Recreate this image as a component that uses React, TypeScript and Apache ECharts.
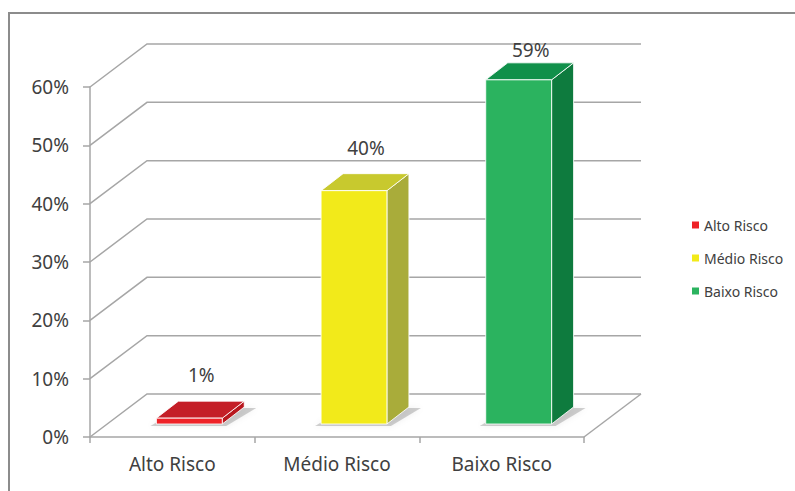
import React, { useEffect, useRef } from "react";
import * as echarts from "echarts";

const categories = ["Alto Risco", "Médio Risco", "Baixo Risco"];
const values = [1, 40, 59];
const yTicks = [0, 10, 20, 30, 40, 50, 60];
const frontColors = ["#EE2227", "#F2EA1A", "#2BB35F"];
const topColors = ["#C41E27", "#C8C92E", "#10904A"];
const sideColors = ["#B8171E", "#A9AC3A", "#0E7B3E"];

const FONT = "Noto Sans";
const TEXT = "#404040";
const GRIDC = "#A6A6A6";
// depth geometry (px)
const WALL_DX = 57;
const WALL_DY = 43;
const BAR_DX = 17;
const BAR_DY = 13;
const SIDE_DX = 22;
const SIDE_DY = 17;

export default function App() {
  const ref = useRef<HTMLDivElement>(null);
  useEffect(() => {
    if (!ref.current) return;
    const chart = echarts.init(ref.current, undefined, { renderer: "svg" });

    const wallSeries: any = {
      type: "custom",
      name: "walls",
      z: 1,
      silent: true,
      data: yTicks.map((v) => [0, v]),
      encode: { x: 0, y: 1 },
      renderItem: (params: any, api: any) => {
        const cs = params.coordSys;
        const v = api.value(1);
        const y = api.coord([0, v])[1];
        const x0 = cs.x;
        const x1 = cs.x + cs.width;
        const children: any[] = [
          {
            type: "polyline",
            shape: {
              points: [
                [x0, y],
                [x0 + WALL_DX, y - WALL_DY],
                [x1 + WALL_DX, y - WALL_DY],
              ],
            },
            style: { stroke: GRIDC, lineWidth: 1.5, fill: null },
          },
        ];
        if (v === 0) {
          children.push({
            type: "line",
            shape: { x1: x1, y1: y, x2: x1 + WALL_DX, y2: y - WALL_DY },
            style: { stroke: GRIDC, lineWidth: 1.5 },
          });
        }
        return { type: "group", children };
      },
    };

    const barSeries = categories.map((name, i) => ({
      type: "custom",
      name,
      z: 3,
      itemStyle: { color: frontColors[i] },
      data: [[i, values[i]]],
      encode: { x: 0, y: 1 },
      renderItem: (params: any, api: any) => {
        const cat = api.value(0);
        const v = api.value(1);
        const base = api.coord([cat, 0]);
        const top = api.coord([cat, v]);
        const band = api.size([1, 0])[0];
        const w = band * 0.4;
        const fx = base[0] + BAR_DX - w / 2;
        const fy0 = base[1] - BAR_DY;
        const fy1 = top[1] - BAR_DY;
        const stroke = "rgba(255,255,255,0.85)";
        const labelY = Math.max(fy1 - SIDE_DY - 26, params.coordSys.y - 37);
        return {
          type: "group",
          children: [
            {
              type: "polygon",
              shape: {
                points: [
                  [fx - 6, fy0 + 2],
                  [fx + w + 4, fy0 + 2],
                  [fx + w + SIDE_DX + 12, fy0 - SIDE_DY + 1],
                  [fx + SIDE_DX + 2, fy0 - SIDE_DY + 1],
                ],
              },
              style: {
                fill: "rgba(0,0,0,0.18)",
                shadowBlur: 6,
                shadowColor: "rgba(0,0,0,0.35)",
              },
            },
            {
              type: "polygon",
              shape: {
                points: [
                  [fx + w, fy1],
                  [fx + w + SIDE_DX, fy1 - SIDE_DY],
                  [fx + w + SIDE_DX, fy0 - SIDE_DY],
                  [fx + w, fy0],
                ],
              },
              style: { fill: sideColors[i], stroke, lineWidth: 1 },
            },
            {
              type: "polygon",
              shape: {
                points: [
                  [fx, fy1],
                  [fx + SIDE_DX, fy1 - SIDE_DY],
                  [fx + w + SIDE_DX, fy1 - SIDE_DY],
                  [fx + w, fy1],
                ],
              },
              style: { fill: topColors[i], stroke, lineWidth: 1 },
            },
            {
              type: "rect",
              shape: { x: fx, y: fy1, width: w, height: fy0 - fy1 },
              style: { fill: frontColors[i], stroke, lineWidth: 1 },
            },
            {
              type: "text",
              x: fx + w / 2 + SIDE_DX / 2 + 1,
              y: labelY,
              style: {
                text: v + "%",
                align: "center",
                verticalAlign: "middle",
                fontFamily: FONT,
                fontSize: 19,
                fill: TEXT,
              },
            },
          ],
        };
      },
    }));

    chart.setOption({
      animation: false,
      backgroundColor: "#ffffff",
      graphic: [
        {
          type: "rect",
          x: 9,
          y: 13,
          silent: true,
          shape: { x: 0, y: 0, width: 800, height: 500 },
          style: { fill: "none", stroke: "#8C8C8C", lineWidth: 2 },
        },
      ],
      legend: {
        orient: "vertical",
        left: 687,
        top: 213,
        itemWidth: 7,
        itemHeight: 7,
        itemGap: 19,
        icon: "rect",
        data: categories,
        textStyle: { fontFamily: FONT, fontSize: 14, color: TEXT },
      },
      grid: { left: 90, right: 211, top: 87, bottom: 54 },
      xAxis: {
        type: "category",
        data: categories,
        boundaryGap: true,
        axisLine: { show: true, lineStyle: { color: GRIDC, width: 1.5 } },
        axisTick: { show: true, length: 6, interval: 0, lineStyle: { color: GRIDC, width: 1.5 } },
        axisLabel: { fontFamily: FONT, fontSize: 19, color: TEXT, margin: 17, interval: 0 },
        splitLine: { show: false },
      },
      yAxis: {
        type: "value",
        min: 0,
        max: 60,
        interval: 10,
        axisLine: { show: true, lineStyle: { color: GRIDC, width: 1.5 } },
        axisTick: { show: true, length: 7, lineStyle: { color: GRIDC, width: 1.5 } },
        axisLabel: { fontFamily: FONT, fontSize: 19, color: TEXT, margin: 21, formatter: "{value}%" },
        splitLine: { show: false },
      },
      series: [wallSeries, ...barSeries],
    });
    return () => chart.dispose();
  }, []);

  return (
    <div
      ref={ref}
      style={{ position: "fixed", left: 0, top: 0, width: 795, height: 491 }}
    />
  );
}
